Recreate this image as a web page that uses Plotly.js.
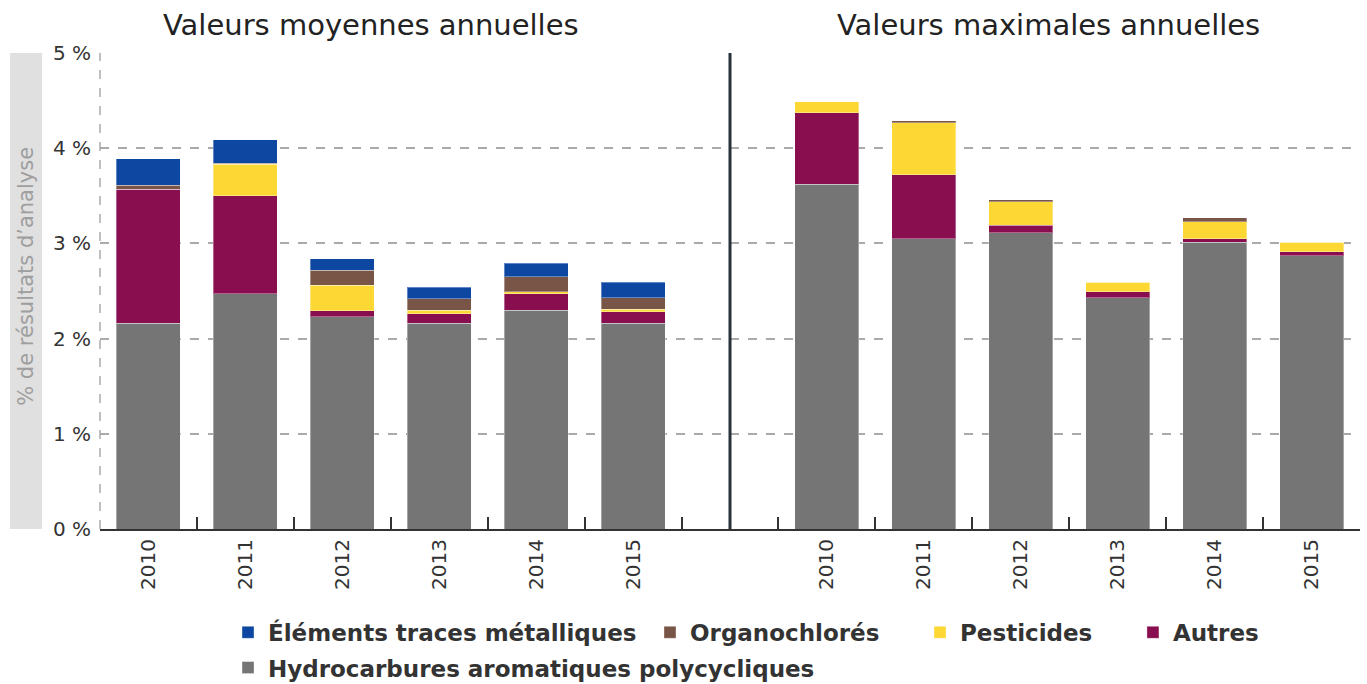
<!DOCTYPE html>
<html>
<head>
<meta charset="utf-8">
<script src="https://cdn.plot.ly/plotly-3.0.1.min.js"></script>
<style>html,body{margin:0;padding:0;background:#fff}#chart{width:1367px;height:684px}</style>
</head>
<body>
<div id="chart"></div>
<script>
const years = ['2010', '2011', '2012', '2013', '2014', '2015'];
const panelTitles = ['Valeurs moyennes annuelles', 'Valeurs maximales annuelles'];
const yTitle = '% de résultats d’analyse';
const seriesNames = ['Hydrocarbures aromatiques polycycliques', 'Autres', 'Pesticides', 'Organochlorés', 'Éléments traces métalliques'];
const seriesColors = ['#757575', '#880E4F', '#FDD835', '#795548', '#0D47A1'];

// Valeurs moyennes annuelles (%)
const hapMoy = [2.16, 2.47, 2.23, 2.16, 2.30, 2.16];
const autresMoy = [1.41, 1.03, 0.06, 0.10, 0.17, 0.12];
const pestMoy = [0.00, 0.33, 0.27, 0.04, 0.02, 0.03];
const orgMoy = [0.04, 0.01, 0.16, 0.12, 0.16, 0.12];
const etmMoy = [0.28, 0.25, 0.12, 0.12, 0.14, 0.16];

// Valeurs maximales annuelles (%)
const hapMax = [3.62, 3.05, 3.11, 2.43, 3.01, 2.87];
const autresMax = [0.75, 0.67, 0.08, 0.06, 0.04, 0.04];
const pestMax = [0.12, 0.55, 0.25, 0.10, 0.18, 0.10];
const orgMax = [0.00, 0.02, 0.02, 0.00, 0.04, 0.00];
const etmMax = [0.00, 0.00, 0.00, 0.00, 0.00, 0.00];

const moy = [hapMoy, autresMoy, pestMoy, orgMoy, etmMoy];
const max = [hapMax, autresMax, pestMax, orgMax, etmMax];

// one legend box per entry so the entries sit where the reference puts them
const legendIds = ['legend2', 'legend5', 'legend4', 'legend3', 'legend'];

const FONT = 'DejaVu Sans, sans-serif';
const traces = [];
seriesNames.forEach((name, i) => {
  traces.push({
    type: 'bar', x: years, y: moy[i], name: name, xaxis: 'x', yaxis: 'y',
    marker: {color: seriesColors[i], line: {color: 'rgba(255,255,255,0.35)', width: 1}},
    legendgroup: name, legend: legendIds[i], hoverinfo: 'name+y'
  });
  traces.push({
    type: 'bar', x: years, y: max[i], name: name, xaxis: 'x2', yaxis: 'y',
    marker: {color: seriesColors[i], line: {color: 'rgba(255,255,255,0.35)', width: 1}},
    legendgroup: name, showlegend: false, legend: legendIds[i], hoverinfo: 'name+y'
  });
});

const xCommon = {
  type: 'category', showline: true, linecolor: '#333', linewidth: 2,
  ticks: 'inside', tickson: 'boundaries', ticklen: 12, tickcolor: '#333', tickwidth: 1.5,
  tickangle: -90, tickfont: {family: FONT, size: 20, color: '#333'},
  showgrid: false, zeroline: false, anchor: 'y', fixedrange: true, automargin: false
};

const legendFont = {family: FONT, size: 23, color: '#333', weight: 700};
function leg(x, y) {
  return {orientation: 'h', x: x, y: y, xanchor: 'left', yanchor: 'top', font: legendFont,
          itemclick: false, itemdoubleclick: false, bgcolor: 'rgba(0,0,0,0)'};
}

const layout = {
  width: 1367, height: 684,
  margin: {l: 100, r: 7, t: 53, b: 155, autoexpand: false},
  paper_bgcolor: '#fff', plot_bgcolor: '#fff',
  barmode: 'stack', bargap: 0.34,
  font: {family: FONT, color: '#333'},
  xaxis: Object.assign({}, xCommon, {domain: [0, 0.5], range: [-0.5, 6]}),
  xaxis2: Object.assign({}, xCommon, {domain: [0.5, 1], range: [-1, 5.5]}),
  yaxis: {
    range: [0, 5], dtick: 1, tick0: 0, ticksuffix: ' %',
    showgrid: true, gridcolor: '#aaaaaa', gridwidth: 1.5, griddash: 'dash',
    zeroline: false, showline: false, ticks: '', automargin: false,
    tickfont: {family: FONT, size: 20, color: '#333'}, ticklabelstandoff: 8, fixedrange: true
  },
  legend: leg(0.1016, -0.172),
  legend3: leg(0.4365, -0.172),
  legend4: leg(0.6508, -0.172),
  legend5: leg(0.8198, -0.172),
  legend2: leg(0.1016, -0.246),
  shapes: [
    {type: 'rect', xref: 'paper', yref: 'paper', x0: -0.0714, x1: -0.0460, y0: 0, y1: 1,
     fillcolor: '#e0e0e0', line: {width: 0}, layer: 'below'},
    {type: 'line', xref: 'paper', yref: 'paper', x0: 0, x1: 0, y0: 0, y1: 1,
     line: {color: '#aaaaaa', width: 1.5, dash: 'dash'}},
    {type: 'line', xref: 'paper', yref: 'paper', x0: 0.5, x1: 0.5, y0: 0, y1: 1,
     line: {color: '#263238', width: 3}}
  ],
  annotations: [
    {text: panelTitles[0], xref: 'paper', yref: 'paper', x: 0.215, y: 1.058, xanchor: 'center', yanchor: 'middle',
     showarrow: false, font: {family: FONT, size: 29, color: '#222'}},
    {text: panelTitles[1], xref: 'paper', yref: 'paper', x: 0.753, y: 1.058, xanchor: 'center', yanchor: 'middle',
     showarrow: false, font: {family: FONT, size: 29, color: '#222'}},
    {text: yTitle, xref: 'paper', yref: 'paper', x: -0.0587, y: 0.53, xanchor: 'center', yanchor: 'middle',
     textangle: -90, showarrow: false, font: {family: FONT, size: 21, color: '#9e9e9e'}}
  ]
};

Plotly.newPlot('chart', traces, layout, {displayModeBar: false});
</script>
</body>
</html>
